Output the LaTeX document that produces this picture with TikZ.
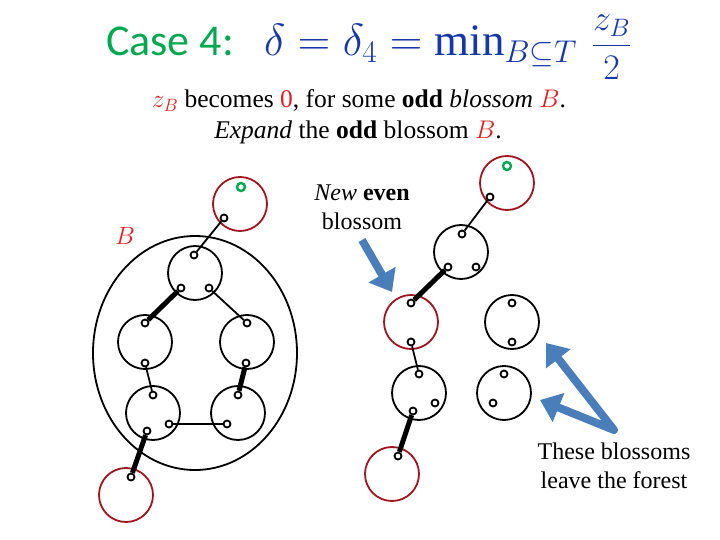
\RequirePackage{fix-cm}
\documentclass[tikz,border=0pt]{standalone}
\usepackage{amsmath}
\usepackage{fontspec}
\setmainfont{Liberation Serif}
\newfontfamily\calibri{Carlito}
\usetikzlibrary{shapes.geometric, arrows.meta, positioning}
\definecolor{casegreen}{RGB}{0,168,80}
\definecolor{mathblue}{RGB}{20,55,170}
\definecolor{zred}{RGB}{225,30,30}
\definecolor{bred}{RGB}{160,20,30}
\definecolor{arrblue}{RGB}{74,126,187}

\begin{document}
\begin{tikzpicture}[x=1pt, y=-1pt,
  blos/.style={circle, draw=black, line width=1.8pt, minimum size=54pt, inner sep=0pt},
  redblos/.style={blos, draw=bred},
  vtx/.style={circle, draw=black, line width=1.8pt, minimum size=7pt, inner sep=0pt},
  free/.style={vtx, draw=casegreen, line width=2.4pt, minimum size=8pt},
  edge/.style={line width=1.8pt},
  matched/.style={line width=5pt},
  bigarrow/.style={draw=arrblue, line width=8pt, line join=round, arrows={-Triangle[length=20pt, width=30pt]}},
  note/.style={font=\fontsize{24}{29}\selectfont, align=center, inner sep=0pt},
  head/.style={font=\fontsize{25.5}{30}\selectfont, anchor=base, inner sep=0pt}
]
\useasboundingbox (0,0) rectangle (720,540);

\node (case) [anchor=base west, inner sep=0pt, text=casegreen] at (106,56) {\calibri\fontsize{44}{50}\selectfont Case 4:};
\node (delta) [anchor=base west, inner sep=0pt, text=mathblue] at (264,56)
  {\fontsize{45}{50}\selectfont $\delta=\delta_4=\min_{B\subseteq T}\,\raisebox{1pt}{\fontsize{36}{40}\selectfont$\dfrac{z_B}{2}$}$};
\node (line1) [head] at (359,108)
  {\textcolor{zred}{$z_B$} becomes \textcolor{zred}{0}, for some \textbf{odd} \textit{blossom} \textcolor{zred}{$B$}.};
\node (line2) [head] at (358,139)
  {\textit{Expand} the \textbf{odd} blossom \textcolor{zred}{$B$}.};

% odd blossom B before expansion
\node (bigB) [ellipse, draw=black, line width=1.8pt, minimum width=204pt, minimum height=234pt, inner sep=0pt] at (195,353) {};
\node (labB) [text=zred, font=\fontsize{25}{30}\selectfont] at (125,236) {$B$};

\node (l0) [redblos] at (240,204) {};
\node (l1) [blos] at (195,273) {};
\node (l2) [blos] at (145,342) {};
\node (l3) [blos] at (247,342) {};
\node (l4) [blos] at (153,413) {};
\node (l5) [blos] at (238,413) {};
\node (l6) [redblos] at (126,495) {};

\node (l0g) [free] at (241,187) {};
\node (l0a) [vtx] at (224,218) {};
\node (l1a) [vtx] at (194,255) {};
\node (l1b) [vtx] at (181,288) {};
\node (l1c) [vtx] at (209,288) {};
\node (l2a) [vtx] at (145,323) {};
\node (l2b) [vtx] at (145,363) {};
\node (l3a) [vtx] at (247,323) {};
\node (l3b) [vtx] at (246,363) {};
\node (l4a) [vtx] at (153,395) {};
\node (l4b) [vtx] at (169,424) {};
\node (l4c) [vtx] at (147,431) {};
\node (l5a) [vtx] at (238,395) {};
\node (l5b) [vtx] at (227,424) {};
\node (l6a) [vtx] at (131,477) {};

\draw [edge] (l0a) -- (l1a);
\draw [matched] (l1b) -- (l2a);
\draw [edge] (l1c) -- (l3a);
\draw [edge] (l2b) -- (l4a);
\draw [matched] (l3b) -- (l5a);
\draw [edge] (l4b) -- (l5b);
\draw [matched] (l4c) -- (l6a);

% after expansion
\node (r0) [redblos] at (507,183) {};
\node (r1) [blos] at (461,252) {};
\node (r2) [redblos] at (411,322) {};
\node (r3) [blos] at (419,393) {};
\node (r4) [redblos] at (392,474) {};
\node (r5) [blos] at (512,322) {};
\node (r6) [blos] at (504,393) {};

\node (r0g) [free] at (507,166) {};
\node (r0a) [vtx] at (490,197) {};
\node (r1a) [vtx] at (462,234) {};
\node (r1b) [vtx] at (448,267) {};
\node (r1c) [vtx] at (476,267) {};
\node (r2a) [vtx] at (411,303) {};
\node (r2b) [vtx] at (411,342) {};
\node (r3a) [vtx] at (419,374) {};
\node (r3b) [vtx] at (435,403) {};
\node (r3c) [vtx] at (413,411) {};
\node (r4a) [vtx] at (398,456) {};
\node (r5a) [vtx] at (512,303) {};
\node (r5b) [vtx] at (512,342) {};
\node (r6a) [vtx] at (504,374) {};
\node (r6b) [vtx] at (493,403) {};

\draw [edge] (r0a) -- (r1a);
\draw [matched] (r1b) -- (r2a);
\draw [edge] (r2b) -- (r3a);
\draw [matched] (r3c) -- (r4a);

% notes and arrows
\node (neweven) [note] at (362,207) {\textit{New} \textbf{even}\\blossom};
\node (leave) [note] at (614,466) {These blossoms\\leave the forest};

\coordinate (ne0) at (362,240);
\coordinate (ne1) at (392,292);
\coordinate (lv0) at (614,430);
\coordinate (lv1) at (546,343);
\coordinate (lv2) at (540,400);

\draw [bigarrow] (ne0) -- (ne1);
\draw [bigarrow, arrows={Triangle[length=20pt, width=30pt]-Triangle[length=20pt, width=30pt]}] (lv1) -- (lv0) -- (lv2);
\end{tikzpicture}
\end{document}
